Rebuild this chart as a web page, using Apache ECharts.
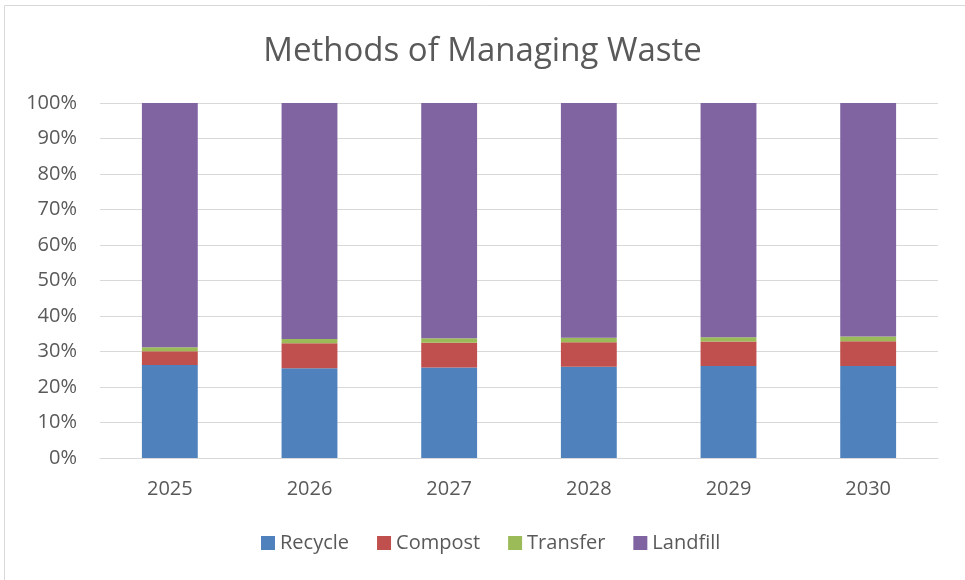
<!DOCTYPE html>
<html>
<head>
<meta charset="utf-8">
<title>Methods of Managing Waste</title>
<script src="https://cdn.jsdelivr.net/npm/echarts@6/dist/echarts.min.js"></script>
<style>
  html, body { margin: 0; padding: 0; background: #fff; }
  #chart { width: 965px; height: 580px; }
</style>
</head>
<body>
<div id="chart"></div>
<script>
  // data (percent of total)
  const years = ['2025', '2026', '2027', '2028', '2029', '2030'];
  const recycle = [26.2, 25.3, 25.5, 25.7, 25.9, 25.9];
  const compost = [3.9, 7.0, 7.0, 6.9, 6.9, 7.0];
  const transfer = [1.1, 1.2, 1.2, 1.3, 1.2, 1.3];
  const landfill = [68.8, 66.5, 66.3, 66.1, 66.0, 65.8];

  const names = ['Recycle', 'Compost', 'Transfer', 'Landfill'];
  const values = [recycle, compost, transfer, landfill];
  const colors = ['#4f81bd', '#c0504d', '#9bbb59', '#8064a2'];

  const font = 'Open Sans';
  const textColor = '#595959';

  const chart = echarts.init(document.getElementById('chart'));

  const series = names.map(function (name, i) {
    return {
      name: name,
      type: 'bar',
      stack: 'total',
      barWidth: '40%',
      data: values[i],
      itemStyle: { color: colors[i] }
    };
  });

  chart.setOption({
    animation: false,
    color: colors,
    title: {
      text: 'Methods of Managing Waste',
      left: 'center',
      top: 30,
      textStyle: { fontFamily: font, fontSize: 33, fontWeight: 'normal', color: textColor }
    },
    // only the left and top edges of the chart frame are in view
    graphic: [{
      type: 'rect',
      shape: { x: 4.5, y: 5.5, width: 1000, height: 1000 },
      style: { fill: 'none', stroke: '#d9d9d9', lineWidth: 1 },
      silent: true
    }],
    legend: {
      top: 528,
      left: 256,
      icon: 'rect',
      itemWidth: 14,
      itemHeight: 14,
      itemGap: 28,
      textStyle: { fontFamily: font, fontSize: 20, color: textColor },
      data: names
    },
    grid: { left: 100, right: 27, top: 103, bottom: 122 },
    xAxis: {
      type: 'category',
      data: years,
      axisLine: { lineStyle: { color: '#d9d9d9' } },
      axisTick: { show: false },
      axisLabel: { fontFamily: font, fontSize: 20, color: textColor, margin: 21 }
    },
    yAxis: {
      type: 'value',
      min: 0,
      max: 100,
      interval: 10,
      axisLine: { show: false },
      axisTick: { show: false },
      splitLine: { lineStyle: { color: '#d9d9d9' } },
      axisLabel: { fontFamily: font, fontSize: 20, color: textColor, margin: 23, formatter: '{value}%' }
    },
    series: series
  });
</script>
</body>
</html>
